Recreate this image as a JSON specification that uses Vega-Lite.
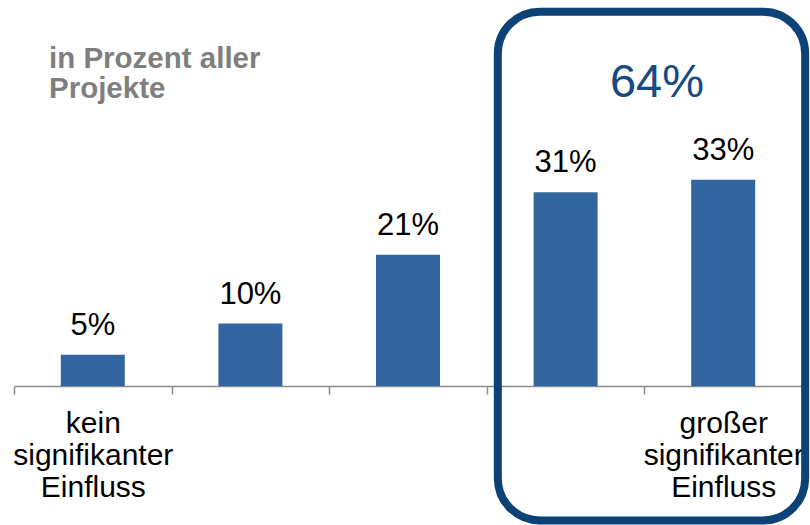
{
  "$schema": "https://vega.github.io/schema/vega-lite/v6.json",
  "width": 788,
  "height": 386,
  "padding": {"left": 14, "top": 0, "right": 8, "bottom": 139},
  "autosize": {"type": "none"},
  "background": "white",
  "config": {"view": {"stroke": null}, "font": "Liberation Sans"},
  "title": {
    "text": ["in Prozent aller", "Projekte"],
    "anchor": "start",
    "frame": "group",
    "dx": 35,
    "offset": -127,
    "baseline": "alphabetic",
    "fontSize": 29.5,
    "fontWeight": "bold",
    "color": "#7f7f7f",
    "lineHeight": 30,
    "font": "Liberation Sans"
  },
  "layer": [
    {
      "data": {
        "values": [
          {"cat": "kein signifikanter Einfluss", "value": 5, "label": "5%"},
          {"cat": "2", "value": 10, "label": "10%"},
          {"cat": "3", "value": 21, "label": "21%"},
          {"cat": "4", "value": 31, "label": "31%"},
          {"cat": "großer signifikanter Einfluss", "value": 33, "label": "33%"}
        ]
      },
      "encoding": {
        "x": {
          "field": "cat",
          "type": "nominal",
          "sort": null,
          "scale": {"paddingInner": 0, "paddingOuter": 0},
          "axis": {
            "title": null,
            "labelAngle": 0,
            "labelExpr": "indexof(datum.label, ' ') > 0 ? split(datum.label, ' ') : ''",
            "labelFontSize": 30,
            "labelLineHeight": 32,
            "labelColor": "black",
            "labelFont": "Liberation Sans",
            "labelPadding": 14,
            "labelBaseline": "top",
            "domainColor": "#8c8c8c",
            "domainWidth": 1.5,
            "tickColor": "#8c8c8c",
            "tickWidth": 1.5,
            "tickSize": 8,
            "tickBand": "extent",
            "grid": false
          }
        },
        "y": {
          "field": "value",
          "type": "quantitative",
          "scale": {"domain": [0, 61.76], "nice": false, "zero": true},
          "axis": null
        }
      },
      "layer": [
        {"mark": {"type": "bar", "width": 64, "color": "#3366a0"}},
        {
          "mark": {"type": "text", "dy": -20, "baseline": "alphabetic", "fontSize": 31, "color": "black", "font": "Liberation Sans"},
          "encoding": {"text": {"field": "label"}}
        }
      ]
    },
    {
      "data": {"values": [{"label": "64%"}]},
      "layer": [
        {
          "mark": {"type": "rect", "filled": false, "stroke": "#0d4277", "strokeWidth": 8, "cornerRadius": 42, "clip": false},
          "encoding": {
            "x": {"datum": 3.07, "type": "quantitative", "scale": {"domain": [0, 5], "nice": false, "zero": false}, "axis": null},
            "x2": {"datum": 5.02},
            "y": {"datum": 59.9, "type": "quantitative", "scale": {"domain": [0, 61.76], "nice": false, "zero": true}, "axis": null},
            "y2": {"datum": -21.5}
          }
        },
        {
          "mark": {"type": "text", "fontSize": 47, "color": "#174a80", "baseline": "alphabetic", "font": "Liberation Sans"},
          "encoding": {
            "x": {"datum": 4.08, "type": "quantitative"},
            "y": {"datum": 46.24, "type": "quantitative"},
            "text": {"field": "label"}
          }
        }
      ]
    }
  ],
  "resolve": {"scale": {"x": "independent"}}
}
